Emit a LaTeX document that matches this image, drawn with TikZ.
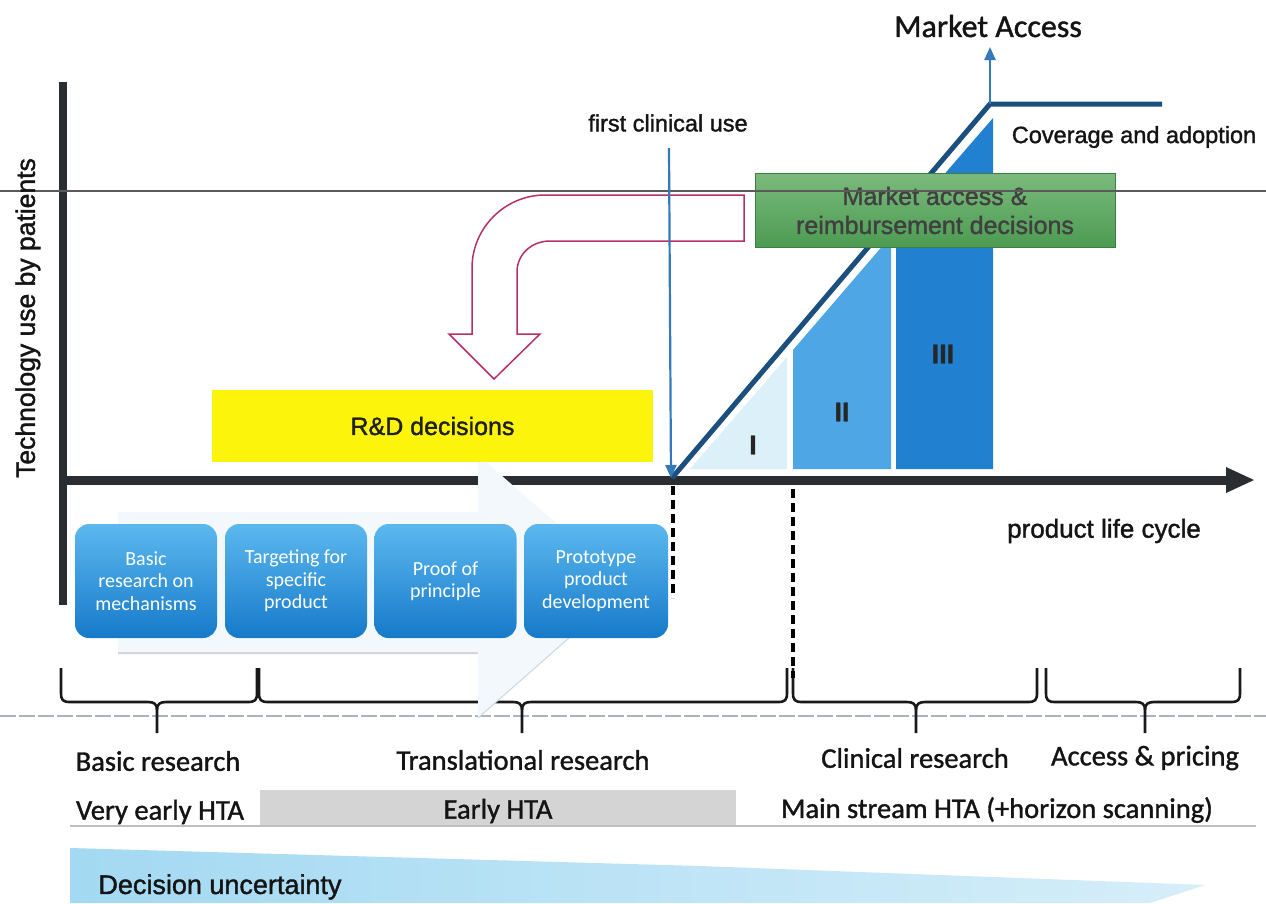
\documentclass[tikz,border=0pt]{standalone}
\usepackage{fontspec}
\setmainfont[FakeBold=1.4]{Liberation Sans}
\newfontfamily\calibri[FakeBold=1.2]{Carlito}
\newfontfamily\calibrilight{Carlito}
\usetikzlibrary{arrows.meta}

\definecolor{axisdark}{RGB}{42,46,51}
\definecolor{navy}{RGB}{27,79,126}
\definecolor{steel}{RGB}{52,122,186}
\definecolor{phaseone}{RGB}{220,240,250}
\definecolor{phasetwo}{RGB}{78,167,228}
\definecolor{phasethree}{RGB}{33,128,208}
\definecolor{boxtop}{RGB}{92,184,238}
\definecolor{boxbot}{RGB}{22,122,202}
\definecolor{greentop}{RGB}{122,186,124}
\definecolor{greenbot}{RGB}{76,155,82}
\definecolor{rdyellow}{RGB}{252,244,10}
\definecolor{crimson}{RGB}{180,48,106}
\definecolor{paleblue}{RGB}{242,248,252}
\definecolor{paleedge}{RGB}{200,216,229}
\definecolor{wedgeleft}{RGB}{163,217,242}
\definecolor{wedgeright}{RGB}{214,238,249}
\definecolor{htagray}{RGB}{212,212,212}
\definecolor{rulegray}{RGB}{90,90,90}
\definecolor{dashgray}{RGB}{168,180,192}

\newcommand{\phasebrace}[3]{%
  \draw[bracestroke] (#1,668) -- (#1,693)
    .. controls (#1,700) and ({#1+2},702) .. ({#1+9},702) -- ({#2-9},702)
    .. controls ({#2-3},702) and (#2,704) .. (#2,710) -- (#2,733);
  \draw[bracestroke] (#2,710)
    .. controls (#2,704) and ({#2+3},702) .. ({#2+9},702) -- ({#3-9},702)
    .. controls ({#3-2},702) and (#3,700) .. (#3,693) -- (#3,668);
}

\begin{document}
\begin{tikzpicture}[x=1pt,y=-1pt,
  bracestroke/.style={draw=black!90, line width=2.6pt, line join=round},
  stagebox/.style={draw=none, rounded corners=14pt, top color=boxtop, bottom color=boxbot,
    minimum width=142pt, minimum height=114pt, inner sep=0pt, align=center,
    text=white, font=\calibrilight\fontsize{20}{22.5}\selectfont},
  arialtext/.style={font=\fontsize{#1}{#1}\selectfont, text=black!92, inner sep=0pt},
  caltext/.style={font=\calibri\fontsize{28.5}{30}\selectfont, text=black!92, inner sep=0pt},
  phaselabel/.style={font=\bfseries\fontsize{27}{27}\selectfont, text=black!85, inner sep=0pt},
  blackdash/.style={draw=black, line width=3.2pt, dash pattern=on 9pt off 5pt},
  bluearrow/.style={draw=steel, line width=2.4pt, -{Triangle[length=13pt,width=11pt]}},
]
\useasboundingbox (0,0) rectangle (1266,903);
\fill[white] (0,0) rectangle (1266,903);

% ---------- bottom bands ----------
\draw[dashgray, line width=1.4pt, dash pattern=on 16pt off 3pt] (0,716) -- (1266,716);
\node[draw=none, fill=htagray, minimum width=476pt, minimum height=36pt, inner sep=0pt] (early) at (498,808) {};
\draw[black!25, line width=1.5pt] (70,826) -- (1256,826);
\shade[left color=wedgeleft, right color=wedgeright]
  (70,848) -- (700,866) -- (1205,885) -- (1150,903) -- (70,903) -- cycle;

% ---------- axes ----------
\draw[axisdark, line width=8pt] (63,82) -- (63,605);
\draw[axisdark, line width=9pt] (59,480) -- (1232,480);
\fill[axisdark] (1226,467) -- (1254,480) -- (1226,493) -- cycle;

% ---------- stage braces ----------
\phasebrace{61}{157}{257}
\phasebrace{259}{522}{787}
\phasebrace{793}{916}{1037}
\phasebrace{1046}{1145}{1240}

% ---------- pale research arrow behind the stage boxes ----------
\fill[paleblue] (118,512) -- (478,512) -- (478,455) -- (628,586) -- (478,718) -- (478,655) -- (118,655) -- cycle;
\draw[paleedge, line width=1pt] (628,586) -- (478,718);
\draw[black!16, line width=1.5pt] (118,653) -- (478,653);

% ---------- research stage boxes ----------
\node[stagebox] (b1) at (146,581) {Basic\\research on\\mechanisms};
\node[stagebox] (b2) at (296,581) {Targeting for\\specific\\product};
\node[stagebox] (b3) at (445.5,581) {Proof of\\principle};
\node[stagebox, minimum width=144pt] (b4) at (596,581) {Prototype\\product\\development};

% ---------- dashed phase markers ----------
\draw[blackdash] (673,486) -- (673,598);
\draw[blackdash] (793,489) -- (793,678);

% ---------- clinical phases ----------
\fill[phaseone] (690,469) -- (787,357) -- (787,469) -- cycle;
\fill[phasetwo] (793,469) -- (793,350) -- (891,236) -- (891,469) -- cycle;
\fill[phasethree] (896,469) -- (896,230) -- (993,118) -- (993,469) -- cycle;
\node[phaselabel] (p1) at (753,445) {I};
\node[phaselabel] (p2) at (842,412) {II};
\node[phaselabel] (p3) at (943,354) {III};

% ---------- adoption curve and market access arrow ----------
\coordinate (curveStart) at (672,478);
\coordinate (curveTop) at (990,104);
\coordinate (curveEnd) at (1162,104);
\coordinate (accessTip) at (990,47);
\draw[navy, line width=5pt, line join=miter] (curveStart) -- (curveTop) -- (curveEnd);
\draw[bluearrow] (curveTop) -- (accessTip);

% ---------- market access decisions ----------
\node[draw=greenbot!80!black, line width=0.6pt, top color=greentop, bottom color=greenbot,
  minimum width=360pt, minimum height=74pt, inner sep=0pt, align=center,
  text=black!75, font=\fontsize{25}{29}\selectfont] (mad) at (935,210.5)
  {Market access \&\\reimbursement decisions};

% horizontal reference rule
\draw[rulegray, line width=1.3pt] (0,191) -- (1266,191);

% ---------- feedback arrow ----------
\draw[crimson, line width=1.5pt, fill=white, line join=miter]
  (744,195) -- (545,195) .. controls (505,195) and (472,228) .. (472,268)
  -- (472,334) -- (449,334) -- (494,379) -- (540,334) -- (517,334)
  -- (517,272) .. controls (517,254) and (532,241) .. (550,241)
  -- (744,241) -- cycle;

% ---------- first clinical use ----------
\coordinate (fcuTop) at (669,148);
\coordinate (fcuEnd) at (671,478);
\draw[bluearrow, line width=2.2pt] (fcuTop) -- (fcuEnd);

% ---------- R&D decisions ----------
\node[draw=none, fill=rdyellow, minimum width=441pt, minimum height=72pt, inner sep=0pt,
  font=\fontsize{25}{25}\selectfont, text=black!88] (rd) at (432.5,426) {R\&D decisions};

% ---------- labels ----------
\node[arialtext=26.5, rotate=90] (ylab) at (28,318) {Technology use by patients};
\node[font=\calibri\fontsize{32}{32}\selectfont, inner sep=0pt, text=black!92] (mkt) at (988,26) {Market Access};
\node[arialtext=23.5] (fcu) at (668,123) {first clinical use};
\node[arialtext=23.5] (cov) at (1134,137) {Coverage and adoption};
\node[arialtext=26] (plc) at (1104,531) {product life cycle};

\node[caltext] (lbasic) at (158,761) {Basic research};
\node[caltext] (ltrans) at (523,760) {Translational research};
\node[caltext] (lclin) at (915,758) {Clinical research};
\node[caltext] (laccess) at (1145,758) {Access \& pricing};

\node[caltext] (hvery) at (160,812) {Very early HTA};
\node[caltext] (hearly) at (498,811) {Early HTA};
\node[caltext] (hmain) at (997,810) {Main stream HTA (+horizon scanning)};

\node[arialtext=27] (dunc) at (220,887) {Decision uncertainty};
\end{tikzpicture}
\end{document}
